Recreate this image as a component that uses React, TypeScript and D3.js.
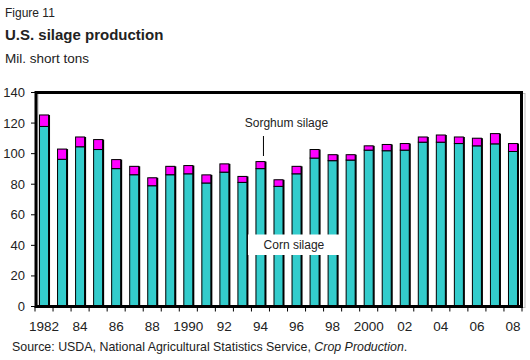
import React, { useEffect, useRef } from 'react';
import * as d3 from 'd3';

// values, million short tons
const years = [1982, 1983, 1984, 1985, 1986, 1987, 1988, 1989, 1990, 1991, 1992, 1993, 1994, 1995, 1996, 1997, 1998, 1999, 2000, 2001, 2002, 2003, 2004, 2005, 2006, 2007, 2008];
const cornSilage = [117.8, 96.3, 104.5, 102.7, 90.2, 86.2, 79.0, 86.2, 86.8, 80.8, 87.9, 81.2, 90.2, 78.6, 86.8, 97.1, 95.4, 95.8, 102.3, 101.9, 102.3, 107.5, 107.5, 106.6, 105.1, 106.4, 101.4];
const sorghumSilage = [7.5, 6.7, 6.4, 6.5, 5.9, 5.5, 5.2, 5.5, 5.4, 5.3, 5.4, 3.9, 4.6, 4.3, 4.9, 5.6, 3.9, 3.5, 2.8, 4.1, 4.3, 3.4, 4.7, 4.3, 5.0, 6.7, 5.2];
const yTicks = [0, 20, 40, 60, 80, 100, 120, 140];
const xLabels: Record<number, string> = {
  1982: '1982', 1984: '84', 1986: '86', 1988: '88', 1990: '1990', 1992: '92', 1994: '94',
  1996: '96', 1998: '98', 2000: '2000', 2002: '02', 2004: '04', 2006: '06', 2008: '08',
};

export default function App() {
  const ref = useRef<SVGSVGElement>(null);

  useEffect(() => {
    const svg = d3.select(ref.current);
    svg.selectAll('*').remove();
    const font = 'Liberation Sans, Arial, sans-serif';

    const left = 35, right = 522, top = 92.5, bottom = 306.5;
    const x = d3.scaleBand<number>().domain(years).range([left, right]).paddingInner(0.5).paddingOuter(0.25);
    const y = d3.scaleLinear().domain([0, 140]).range([bottom, top]);
    const step = x.step();

    // titles
    svg.append('text').attr('x', 5).attr('y', 17).attr('font-size', 12).text('Figure 11');
    svg.append('text').attr('x', 5).attr('y', 40).attr('font-size', 15).attr('font-weight', 'bold').text('U.S. silage production');
    svg.append('text').attr('x', 5).attr('y', 63).attr('font-size', 13.5).text('Mil. short tons');

    // bars
    const data = years.map((yr, i) => ({ yr, corn: cornSilage[i], sorghum: sorghumSilage[i] }));
    const g = svg.append('g');
    const bw = x.bandwidth();
    data.forEach(d => {
      const x0 = x(d.yr)!;
      const total = d.corn + d.sorghum;
      // dark shadow on the right
      g.append('rect').attr('x', x0 + 1.5).attr('y', y(total)).attr('width', bw).attr('height', bottom - y(total)).attr('fill', '#000');
      g.append('rect').attr('x', x0).attr('y', y(d.corn)).attr('width', bw).attr('height', bottom - y(d.corn))
        .attr('fill', '#33CCCC').attr('stroke', '#000').attr('stroke-width', 1);
      g.append('rect').attr('x', x0).attr('y', y(total)).attr('width', bw).attr('height', y(d.corn) - y(total))
        .attr('fill', '#FF00FF').attr('stroke', '#000').attr('stroke-width', 1);
    });

    // corn silage label box
    const lx = x(1994)! - 8;
    svg.append('rect').attr('x', lx).attr('y', 234.5).attr('width', 97).attr('height', 20.5).attr('fill', '#fff');
    svg.append('text').attr('x', lx + 46).attr('y', 249).attr('font-size', 12).attr('text-anchor', 'middle').text('Corn silage');

    // sorghum label + leader
    const sx = x(1994)! + bw / 2 + 3;
    svg.append('text').attr('x', sx + 23).attr('y', 127).attr('font-size', 12).attr('text-anchor', 'middle').text('Sorghum silage');
    svg.append('line').attr('x1', sx).attr('x2', sx).attr('y1', 136).attr('y2', 156).attr('stroke', '#000').attr('stroke-width', 1);

    // frame
    svg.append('rect').attr('x', left + 3).attr('y', top + 1).attr('width', right - left).attr('height', bottom - top)
      .attr('fill', 'none').attr('stroke', '#bbb').attr('stroke-width', 1);
    svg.append('rect').attr('x', left + 1).attr('y', top).attr('width', right - left - 1.5).attr('height', bottom - top)
      .attr('fill', 'none').attr('stroke', '#000').attr('stroke-width', 3);

    // y axis
    const ya = svg.append('g');
    yTicks.forEach(t => {
      ya.append('line').attr('x1', 31).attr('x2', left).attr('y1', y(t)).attr('y2', y(t)).attr('stroke', '#000');
      ya.append('text').attr('x', 25).attr('y', y(t) + 4.5).attr('text-anchor', 'end').attr('font-size', 13).text(String(t));
    });

    // x axis
    const xa = svg.append('g');
    d3.range(years.length + 1).forEach(i => {
      const tx = left + i * step;
      xa.append('line').attr('x1', tx).attr('x2', tx).attr('y1', bottom).attr('y2', bottom + 5).attr('stroke', '#000');
    });
    years.filter(yr => xLabels[yr]).forEach(yr => {
      xa.append('text').attr('x', x(yr)! + bw / 2).attr('y', 331).attr('text-anchor', 'middle').attr('font-size', 13.5).text(xLabels[yr]);
    });

    // source
    const src = svg.append('text').attr('x', 12).attr('y', 351).attr('font-size', 12.4);
    src.append('tspan').text('Source: USDA, National Agricultural Statistics Service, ');
    src.append('tspan').attr('font-style', 'italic').text('Crop Production');
    src.append('tspan').text('.');

    svg.selectAll('text').attr('font-family', font).attr('fill', '#222');
  }, []);

  return (
    <svg ref={ref} width={530} height={360}
      style={{ position: 'absolute', left: 0, top: 0, background: '#fff' }} />
  );
}
